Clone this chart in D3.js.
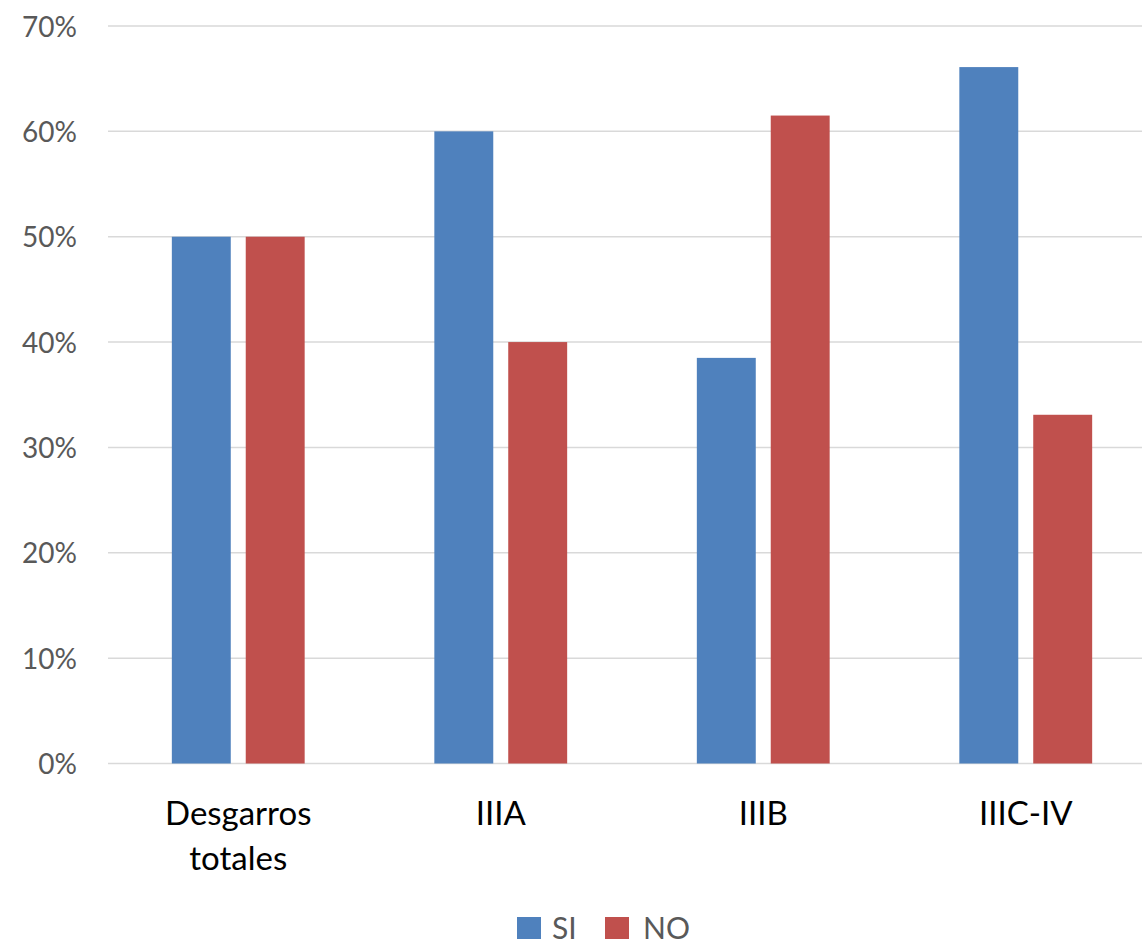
<!DOCTYPE html>
<html>
<head>
<meta charset="utf-8">
<script src="https://cdn.jsdelivr.net/npm/d3@7"></script>
<style>
  html, body { margin: 0; padding: 0; background: #ffffff; }
  svg { display: block; font-family: Lato, "Open Sans", "Liberation Sans", sans-serif; }
</style>
</head>
<body>
<svg id="chart" width="1142" height="946"></svg>
<script>
const categories = [["Desgarros", "totales"], ["IIIA"], ["IIIB"], ["IIIC-IV"]];
const seriesNames = ["SI", "NO"];
const siValues = [50, 60, 38.5, 66.1];
const noValues = [50, 40, 61.5, 33.1];
const yTicks = [0, 10, 20, 30, 40, 50, 60, 70];
const colors = ["#4f81bd", "#c0504d"];

const svg = d3.select("#chart");
const margin = { left: 107, right: -15, top: 26, bottom: 182 };
const W = 1142, H = 946;
const catKeys = categories.map(c => c.join(" "));

const x = d3.scaleBand().domain(catKeys).range([margin.left, W - margin.right])
  .paddingInner(0.494).paddingOuter(0.247);
const xs = d3.scaleBand().domain(seriesNames).range([0, x.bandwidth()]).paddingInner(0.2027);
const y = d3.scaleLinear().domain([0, 70]).range([763.5, 26]);

// gridlines
svg.append("g").selectAll("line").data(yTicks).join("line")
  .attr("x1", 108).attr("x2", W)
  .attr("y1", d => y(d)).attr("y2", d => y(d))
  .attr("stroke", "#d9d9d9").attr("stroke-width", 1.5);

// y axis labels
const yAxis = d3.axisLeft(y).tickValues(yTicks).tickFormat(d => d + "%").tickSize(0).tickPadding(0);
const yg = svg.append("g").attr("transform", "translate(77,0)").call(yAxis);
yg.select(".domain").remove();
yg.selectAll("text").attr("fill", "#595959").style("font-size", "28px")
  .style("font-family", "Lato, 'Open Sans', sans-serif").attr("dy", "0.36em");

// bars
const data = catKeys.map((k, i) => ({ key: k, vals: [siValues[i], noValues[i]] }));
const groups = svg.append("g").selectAll("g").data(data).join("g")
  .attr("transform", d => `translate(${x(d.key)},0)`);
groups.selectAll("rect").data(d => d.vals.map((v, j) => ({ s: seriesNames[j], v, j })))
  .join("rect")
  .attr("x", d => xs(d.s))
  .attr("width", xs.bandwidth())
  .attr("y", d => y(d.v))
  .attr("height", d => y(0) - y(d.v))
  .attr("fill", d => colors[d.j]);

// x labels
const xl = svg.append("g").selectAll("text").data(categories).join("text")
  .attr("text-anchor", "middle")
  .attr("fill", "#000")
  .style("font-size", "33px")
  .attr("transform", (d, i) => `translate(${x(catKeys[i]) + x.bandwidth() / 2},825)`);
xl.selectAll("tspan").data(d => d).join("tspan")
  .attr("x", 0).attr("y", (d, i) => i * 45).text(d => d);

// legend
const legendX = [517, 605];
const lg = svg.append("g").selectAll("g").data(seriesNames).join("g")
  .attr("transform", (d, i) => `translate(${legendX[i]},917)`);
lg.append("rect").attr("width", 24).attr("height", 22).attr("fill", (d, i) => colors[i]);
lg.append("text").attr("x", (d, i) => i === 0 ? 35 : 38).attr("y", 22)
  .attr("fill", "#595959").style("font-size", "30px").text(d => d);
</script>
</body>
</html>
